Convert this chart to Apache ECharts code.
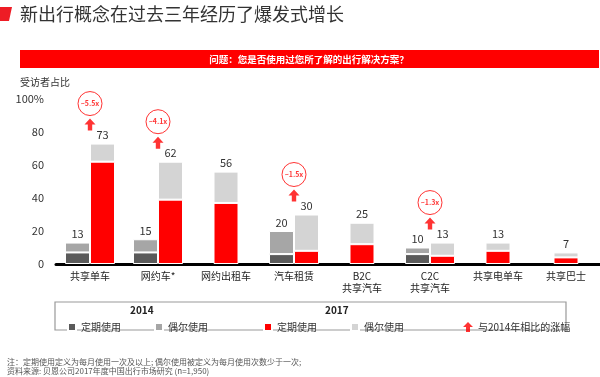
<!DOCTYPE html>
<html>
<head>
<meta charset="utf-8">
<style>
  html, body { margin: 0; padding: 0; background: #fff; }
  #main { width: 600px; height: 377px; }
</style>
<script src="https://cdn.jsdelivr.net/npm/echarts@6/dist/echarts.min.js"></script>
</head>
<body>
<div id="main"></div>
<script>
// 类别与数据（受访者占比，%）
const categories = ['共享单车', '网约车*', '网约出租车', '汽车租赁', 'B2C\n共享汽车', 'C2C\n共享汽车', '共享电单车', '共享巴士'];
const regular2014 = [7, 7, null, 6, null, 6, null, null];
const occasional2014 = [6, 8, null, 14, null, 4, null, null];
const total2014 = [13, 15, null, 20, null, 10, null, null];
const regular2017 = [62, 39, 37, 8, 12, 5, 8, 4];
const occasional2017 = [11, 23, 19, 22, 13, 8, 5, 3];
const total2017 = [73, 62, 56, 30, 25, 13, 13, 7];
const growth = ['~5.5x', '~4.1x', null, '~1.5x', null, '~1.3x', null, null];
const yTicks = [0, 20, 40, 60, 80, 100];

const FONT = "'Noto Sans CJK SC', sans-serif";
const DARK = '#5a5a5a', GREY = '#a6a6a6', RED = '#ff0000', LIGHT = '#d4d4d4';
const arrowPath = 'path://M5,0 L10,5 L7,5 L7,10 L3,10 L3,5 L0,5 Z';

// 有2014数据的类别画两根柱，其余只画2017一根（居中）
const paired = i => total2014[i] != null;
const pick = (arr, wantPaired) => arr.map((v, i) => (paired(i) === wantPaired && v != null) ? v : '-');

const chart = echarts.init(document.getElementById('main'));

function barSeries(name, data, color, stack, axis, totals) {
  const s = {
    name, type: 'bar', data, stack, xAxisIndex: axis,
    barWidth: 25, barGap: '0%',
    itemStyle: { color, borderColor: '#fff', borderWidth: 1 }
  };
  if (totals) {
    s.label = {
      show: true, position: 'top', distance: 3,
      color: '#333', fontSize: 11, fontFamily: FONT,
      formatter: p => totals[p.dataIndex]
    };
  }
  return s;
}

const legendBase = {
  top: 317, itemWidth: 8, itemHeight: 8, itemGap: 33, selectedMode: false, icon: 'rect',
  textStyle: { fontSize: 10, color: '#333', fontFamily: FONT },
  formatter: n => n.replace(/^20\d\d/, '')
};

const growthData = growth.map((g, i) => g ? total2017[i] : '-');

const option = {
  animation: false,
  textStyle: { fontFamily: FONT },
  grid: { left: 56, top: 99, width: 548, height: 165 },
  legend: [
    Object.assign({}, legendBase, { left: 62, data: ['2014定期使用', '2014偶尔使用'] }),
    Object.assign({}, legendBase, { left: 258, data: ['2017定期使用', '2017偶尔使用'] }),
    Object.assign({}, legendBase, { left: 458, itemWidth: 10, itemHeight: 11,
      data: [{ name: '与2014年相比的涨幅', icon: arrowPath }] })
  ],
  xAxis: [
    {
      type: 'category', data: categories,
      axisLine: { lineStyle: { color: '#000', width: 3 } },
      axisTick: { show: false },
      axisLabel: { color: '#222', fontSize: 10, margin: 6, lineHeight: 12, interval: 0 }
    },
    { type: 'category', data: categories, show: false }
  ],
  yAxis: {
    type: 'value', min: 0, max: 100, interval: 20,
    axisLine: { show: false }, axisTick: { show: false }, splitLine: { show: false },
    axisLabel: {
      color: '#333', fontSize: 11, margin: 12,
      formatter: v => yTicks.includes(v) ? (v === 100 ? '100%' : String(v)) : ''
    }
  },
  series: [
    barSeries('2014定期使用', pick(regular2014, true), DARK, 'y2014', 0),
    barSeries('2014偶尔使用', pick(occasional2014, true), GREY, 'y2014', 0, total2014),
    barSeries('2017定期使用', pick(regular2017, true), RED, 'y2017', 0),
    barSeries('2017偶尔使用', pick(occasional2017, true), LIGHT, 'y2017', 0, total2017),
    barSeries('2017定期使用', pick(regular2017, false), RED, 's2017', 1),
    barSeries('2017偶尔使用', pick(occasional2017, false), LIGHT, 's2017', 1, total2017),
    {
      name: '与2014年相比的涨幅', type: 'scatter', data: growthData,
      symbol: arrowPath, symbolSize: [11, 12], symbolOffset: [0, -19],
      itemStyle: { color: RED }, z: 5
    },
    {
      name: 'growthCircle', type: 'scatter', data: growthData,
      symbol: 'circle', symbolSize: 24, symbolOffset: [0, -40],
      itemStyle: { color: '#fff', borderColor: RED, borderWidth: 1 },
      label: {
        show: true, position: 'inside', color: RED, fontSize: 7, fontWeight: 'bold',
        formatter: p => growth[p.dataIndex]
      },
      z: 5
    }
  ],
  graphic: [
    { type: 'polygon', shape: { points: [[0, 7], [12, 7], [9, 21], [0, 21]] }, style: { fill: '#ee1c25' } },
    { type: 'text', x: 20, y: 14, style: { text: '新出行概念在过去三年经历了爆发式增长', font: '18px ' + FONT, fill: '#333', verticalAlign: 'middle' } },
    { type: 'rect', shape: { x: 20, y: 50, width: 579, height: 18 }, style: { fill: RED } },
    { type: 'text', x: 309, y: 59, style: { text: '问题：您是否使用过您所了解的出行解决方案？', font: 'bold 9.5px ' + FONT, fill: '#fff', align: 'center', verticalAlign: 'middle' } },
    { type: 'text', x: 20, y: 82, style: { text: '受访者占比', font: '10px ' + FONT, fill: '#333', verticalAlign: 'middle' } },
    { type: 'rect', shape: { x: 55, y: 302, width: 511, height: 28 }, style: { fill: 'none', stroke: '#999', lineWidth: 1.2 } },
    { type: 'text', x: 130, y: 310, style: { text: '2014', font: 'bold 10px ' + FONT, fill: '#222', verticalAlign: 'middle' } },
    { type: 'text', x: 325, y: 310, style: { text: '2017', font: 'bold 10px ' + FONT, fill: '#222', verticalAlign: 'middle' } },
    { type: 'text', x: 7, y: 362, style: { text: '注：定期使用定义为每月使用一次及以上; 偶尔使用被定义为每月使用次数少于一次;', font: '8px ' + FONT, fill: '#555', verticalAlign: 'middle' } },
    { type: 'text', x: 7, y: 371, style: { text: '资料来源: 贝恩公司2017年度中国出行市场研究 (n=1,950)', font: '8px ' + FONT, fill: '#555', verticalAlign: 'middle' } }
  ]
};

chart.setOption(option);
</script>
</body>
</html>
